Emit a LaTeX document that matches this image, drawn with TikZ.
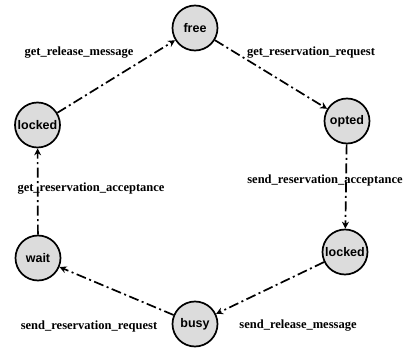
\documentclass[tikz,border=0pt]{standalone}
\usepackage{fontspec}
\setmainfont{Liberation Serif}
\newfontfamily\nodefont{Liberation Sans}
\usetikzlibrary{arrows.meta}
\definecolor{stfill}{RGB}{220,220,220}
\tikzset{
  state/.style={circle, draw=black, line width=1.7pt, fill=stfill, minimum size=45pt, inner sep=0pt,
    font=\nodefont\bfseries\fontsize{12.5}{14}\selectfont},
  trans/.style={line width=1.7pt, dash pattern=on 10pt off 3.5pt on 2pt off 3.5pt,
    -{Stealth[length=7pt,width=7pt]}},
  lab/.style={font=\bfseries\fontsize{12.5}{14}\selectfont, inner sep=0pt}
}
\begin{document}
\begin{tikzpicture}[x=1pt,y=-1pt]
\useasboundingbox (0,0) rectangle (408,348);
\node[state] (free) at (195,28) {free};
\node[state] (opted) at (347,121) {opted};
\node[state] (lockedR) at (345,252) {locked};
\node[state] (busy) at (195,324) {busy};
\node[state] (wait) at (38,258) {wait};
\node[state] (lockedL) at (37.5,125) {locked};
\draw[trans] (lockedL) -- (free);
\draw[trans] (free) -- (opted);
\draw[trans] (opted) -- (lockedR);
\draw[trans] (lockedR) -- (busy);
\draw[trans] (busy) -- (wait);
\draw[trans] (wait) -- (lockedL);
\node[lab] (l1) at (79,53) {get\_release\_message};
\node[lab] (l2) at (311,53) {get\_reservation\_request};
\node[lab] (l3) at (325,180) {send\_reservation\_acceptance};
\node[lab] (l4) at (91,189) {get\_reservation\_acceptance};
\node[lab] (l5) at (89,326) {send\_reservation\_request};
\node[lab] (l6) at (298,326) {send\_release\_message};
\end{tikzpicture}
\end{document}
